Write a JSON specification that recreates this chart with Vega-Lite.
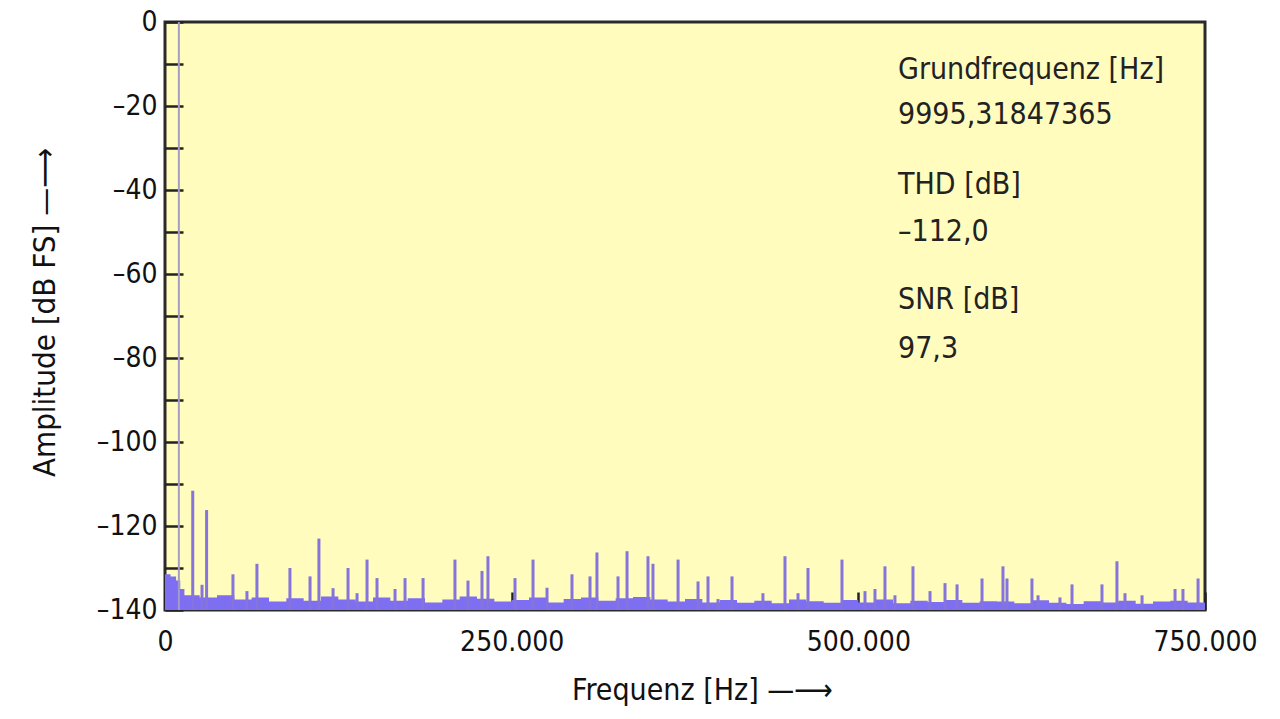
{
  "$schema": "https://vega.github.io/schema/vega-lite/v6.json",
  "width": 1040,
  "height": 588,
  "autosize": {"type": "none"},
  "padding": {"left": 165, "top": 22, "right": 75, "bottom": 109},
  "background": "white",
  "config": {
    "view": {"fill": "#fffcbe", "stroke": "#2a2a2a", "strokeWidth": 3},
    "font": "DejaVu Sans Condensed, Roboto Condensed, DejaVu Sans, sans-serif"
  },
  "datasets": {
    "floor": [
      {"f": 0, "db": -131.5}, {"f": 4000, "db": -132}, {"f": 8000, "db": -133}, {"f": 11000, "db": -135}, {"f": 14000, "db": -136.5},
      {"f": 25000, "db": -137}, {"f": 37500, "db": -136.5}, {"f": 50000, "db": -137.5}, {"f": 62500, "db": -137}, {"f": 75000, "db": -138},
      {"f": 87500, "db": -137.2}, {"f": 100000, "db": -137.8}, {"f": 112500, "db": -136.8}, {"f": 125000, "db": -137.5}, {"f": 137500, "db": -138},
      {"f": 150000, "db": -137}, {"f": 162500, "db": -137.8}, {"f": 175000, "db": -137.2}, {"f": 187500, "db": -138.2}, {"f": 200000, "db": -137.5},
      {"f": 212500, "db": -136.8}, {"f": 225000, "db": -137.3}, {"f": 237500, "db": -138}, {"f": 250000, "db": -137.6}, {"f": 262500, "db": -137},
      {"f": 275000, "db": -138.2}, {"f": 287500, "db": -137.4}, {"f": 300000, "db": -137}, {"f": 312500, "db": -137.8}, {"f": 325000, "db": -137.2},
      {"f": 337500, "db": -136.9}, {"f": 350000, "db": -137.5}, {"f": 362500, "db": -138}, {"f": 375000, "db": -137.4}, {"f": 387500, "db": -138.2},
      {"f": 400000, "db": -137.6}, {"f": 412500, "db": -138.3}, {"f": 425000, "db": -137.8}, {"f": 437500, "db": -138.4}, {"f": 450000, "db": -137.5},
      {"f": 462500, "db": -137.9}, {"f": 475000, "db": -138.3}, {"f": 487500, "db": -137.6}, {"f": 500000, "db": -138.2}, {"f": 512500, "db": -137.5},
      {"f": 525000, "db": -138.4}, {"f": 537500, "db": -137.8}, {"f": 550000, "db": -138.1}, {"f": 562500, "db": -137.6}, {"f": 575000, "db": -138.3},
      {"f": 587500, "db": -137.9}, {"f": 600000, "db": -138}, {"f": 612500, "db": -138.4}, {"f": 625000, "db": -137.7}, {"f": 637500, "db": -138.3},
      {"f": 650000, "db": -138.6}, {"f": 662500, "db": -137.9}, {"f": 675000, "db": -138.2}, {"f": 687500, "db": -137.8}, {"f": 700000, "db": -138.5},
      {"f": 712500, "db": -138}, {"f": 725000, "db": -137.8}, {"f": 737500, "db": -138.2}, {"f": 750000, "db": -138}
    ],
    "fundamental": [{"f": 9995, "db": 0}],
    "spikes": [
      {"f": 20000, "db": -111.6}, {"f": 30000, "db": -116.2}, {"f": 26700, "db": -134}, {"f": 49000, "db": -131.5},
      {"f": 59100, "db": -135.5}, {"f": 66300, "db": -129}, {"f": 90100, "db": -130}, {"f": 104600, "db": -132},
      {"f": 111000, "db": -123}, {"f": 121200, "db": -134.8}, {"f": 132000, "db": -130}, {"f": 138500, "db": -136},
      {"f": 145700, "db": -128}, {"f": 152900, "db": -132.4}, {"f": 165900, "db": -135}, {"f": 173100, "db": -132.4},
      {"f": 186100, "db": -132.4}, {"f": 209100, "db": -128}, {"f": 218500, "db": -133}, {"f": 228600, "db": -130.7},
      {"f": 232900, "db": -127.2}, {"f": 252400, "db": -132.4}, {"f": 265400, "db": -128}, {"f": 275500, "db": -134.7},
      {"f": 293500, "db": -131.5}, {"f": 306500, "db": -132}, {"f": 311500, "db": -126.3}, {"f": 326700, "db": -132},
      {"f": 333200, "db": -126}, {"f": 348300, "db": -127.2}, {"f": 351900, "db": -129}, {"f": 370000, "db": -128},
      {"f": 384400, "db": -133.2}, {"f": 391600, "db": -132}, {"f": 398800, "db": -137.4}, {"f": 408900, "db": -132},
      {"f": 431200, "db": -136}, {"f": 447100, "db": -127.2}, {"f": 456500, "db": -136}, {"f": 463700, "db": -130},
      {"f": 488200, "db": -128}, {"f": 504800, "db": -135.5}, {"f": 512000, "db": -135}, {"f": 519200, "db": -129.6},
      {"f": 526400, "db": -136.5}, {"f": 539400, "db": -129.6}, {"f": 551700, "db": -135.5}, {"f": 562500, "db": -133.6},
      {"f": 571200, "db": -133.9}, {"f": 589200, "db": -132.5}, {"f": 604300, "db": -129.6}, {"f": 607200, "db": -132.5},
      {"f": 625200, "db": -132.5}, {"f": 629600, "db": -136.5}, {"f": 645400, "db": -137}, {"f": 654100, "db": -133.9},
      {"f": 675700, "db": -133.9}, {"f": 686500, "db": -128.4}, {"f": 692300, "db": -136}, {"f": 704600, "db": -136.5},
      {"f": 728400, "db": -135}, {"f": 734100, "db": -135}, {"f": 745000, "db": -132.5}
    ],
    "notes": [
      {"f": 528600, "db": -11.5, "t": "Grundfrequenz [Hz]"},
      {"f": 528600, "db": -22.2, "t": "9995,31847365"},
      {"f": 528600, "db": -38.9, "t": "THD [dB]"},
      {"f": 528600, "db": -50.1, "t": "–112,0"},
      {"f": 528600, "db": -66.3, "t": "SNR [dB]"},
      {"f": 528600, "db": -77.8, "t": "97,3"}
    ]
  },
  "layer": [
    {
      "data": {"name": "floor"},
      "mark": {"type": "area", "interpolate": "step-after", "color": "#7d6ef2", "opacity": 1},
      "encoding": {
        "x": {
          "field": "f", "type": "quantitative",
          "scale": {"domain": [0, 750000], "nice": false, "zero": false},
          "axis": {
            "values": [0, 250000, 500000, 750000],
            "labelExpr": "datum.value == 0 ? '0' : replace(format(datum.value, ','), ',', '.')",
            "tickSize": -18, "tickWidth": 2.5, "tickColor": "#222222",
            "domain": false, "grid": false,
            "labelFontSize": 28, "labelColor": "#111111", "labelPadding": 36,
            "labelFlush": false, "labelOverlap": false,
            "title": "Frequenz [Hz]  —⟶",
            "titleFontSize": 30, "titleFontWeight": "normal", "titleColor": "#111111",
            "titleX": 537, "titleY": 80, "titleBaseline": "middle", "titleAlign": "center"
          }
        },
        "y": {
          "field": "db", "type": "quantitative",
          "scale": {"domain": [-140, 0], "nice": false, "zero": false},
          "axis": {
            "values": [-140, -130, -120, -110, -100, -90, -80, -70, -60, -50, -40, -30, -20, -10, 0],
            "labelExpr": "datum.value % 20 == 0 ? (datum.value < 0 ? '–' + abs(datum.value) : '0') : ''",
            "tickSize": -18, "tickWidth": 2.5, "tickColor": "#222222",
            "domain": false, "grid": false,
            "labelFontSize": 28, "labelColor": "#111111", "labelPadding": 26,
            "labelOverlap": false, "labelFlush": false,
            "title": "Amplitude [dB FS]  —⟶",
            "titleFontSize": 31, "titleFontWeight": "normal", "titleColor": "#111111",
            "titleAngle": -90, "titleX": -120, "titleY": 290, "titleBaseline": "middle", "titleAlign": "center"
          }
        },
        "y2": {"datum": -140}
      }
    },
    {
      "data": {"name": "spikes"},
      "mark": {"type": "rule", "color": "#8474dc", "strokeWidth": 3},
      "encoding": {
        "x": {"field": "f", "type": "quantitative"},
        "y": {"field": "db", "type": "quantitative"},
        "y2": {"datum": -140}
      }
    },
    {
      "data": {"name": "fundamental"},
      "mark": {"type": "rule", "color": "#a49cc8", "strokeWidth": 2},
      "encoding": {
        "x": {"field": "f", "type": "quantitative"},
        "y": {"field": "db", "type": "quantitative"},
        "y2": {"datum": -140}
      }
    },
    {
      "data": {"name": "notes"},
      "mark": {"type": "text", "align": "left", "baseline": "middle", "fontSize": 30, "color": "#222222"},
      "encoding": {
        "x": {"field": "f", "type": "quantitative"},
        "y": {"field": "db", "type": "quantitative"},
        "text": {"field": "t"}
      }
    }
  ]
}
